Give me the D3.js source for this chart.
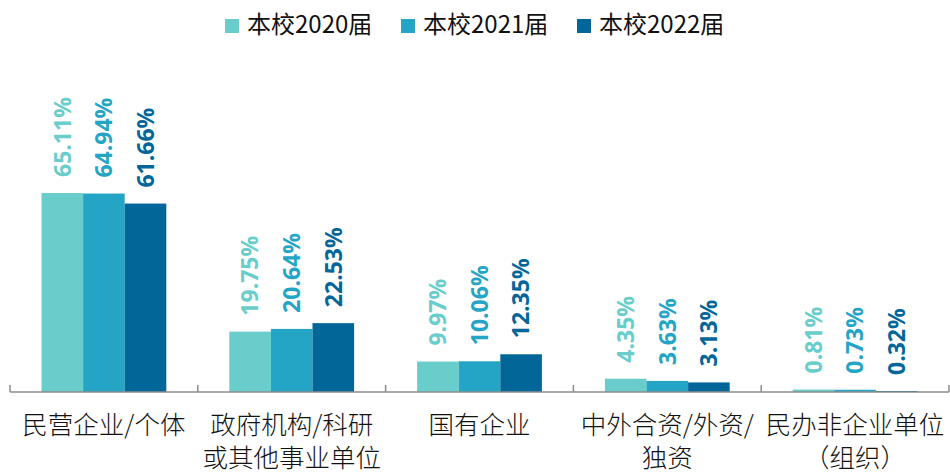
<!DOCTYPE html>
<html>
<head>
<meta charset="utf-8">
<script src="https://cdn.jsdelivr.net/npm/d3@7"></script>
<style>
  body { margin: 0; background: #fff; }
  svg { display: block; }
</style>
</head>
<body>
<script>
const categories = [
    ["民营企业/个体"],
    ["政府机构/科研", "或其他事业单位"],
    ["国有企业"],
    ["中外合资/外资/", "独资"],
    ["民办非企业单位", "（组织）"]
];
const seriesNames = ["本校2020届", "本校2021届", "本校2022届"];
const values2020 = [65.11, 19.75, 9.97, 4.35, 0.81];
const values2021 = [64.94, 20.64, 10.06, 3.63, 0.73];
const values2022 = [61.66, 22.53, 12.35, 3.13, 0.32];
const colors = ["#68cdcb", "#25a5c5", "#026699"];

const allValues = [values2020, values2021, values2022];
const catKeys = categories.map(c => c.join(""));

const width = 950, height = 474;

const svg = d3.select("body").append("svg")
    .attr("width", width)
    .attr("height", height);

// scales
const x0 = d3.scaleBand()
    .domain(catKeys)
    .range([10, 949]);

const x1 = d3.scaleBand()
    .domain(seriesNames)
    .range([31.5, x0.bandwidth() - 31.5]);

const y = d3.scaleLinear()
    .domain([0, 70])
    .range([392, 392 - 70 * 3.056]);

// bars
seriesNames.forEach((s, si) => {
    const g = svg.append("g");
    g.selectAll("rect")
        .data(allValues[si])
        .join("rect")
        .attr("x", (d, i) => x0(catKeys[i]) + x1(s))
        .attr("y", d => y(d))
        .attr("width", x1.bandwidth())
        .attr("height", d => y(0) - y(d))
        .attr("fill", colors[si]);

    // value labels, rotated
    g.selectAll("text")
        .data(allValues[si])
        .join("text")
        .attr("transform", (d, i) => {
            const cx = x0(catKeys[i]) + x1(s) + x1.bandwidth() / 2;
            return `translate(${cx},${y(d) - 16}) rotate(-90)`;
        })
        .attr("dy", "0.36em")
        .attr("text-anchor", "start")
        .style("font-family", "'Open Sans', sans-serif")
        .style("font-weight", "bold")
        .style("font-size", "23px")
        .style("fill", colors[si])
        .text(d => d.toFixed(2) + "%");
});

// axis line + ticks between categories
const axisColor = "#8c8c8c";
svg.append("line")
    .attr("x1", x0.range()[0]).attr("x2", x0.range()[1])
    .attr("y1", y(0)).attr("y2", y(0))
    .attr("stroke", axisColor)
    .attr("stroke-width", 1.5);

const tickXs = catKeys.map(k => x0(k)).concat([x0.range()[1]]);
svg.selectAll(".tick")
    .data(tickXs)
    .join("line")
    .attr("x1", d => d).attr("x2", d => d)
    .attr("y1", y(0)).attr("y2", y(0) - 7)
    .attr("stroke", axisColor)
    .attr("stroke-width", 1.5);

// category labels, one text per line
categories.forEach((lines, i) => {
    const cx = x0(catKeys[i]) + x0.bandwidth() / 2;
    lines.forEach((ln, li) => {
        svg.append("text")
            .attr("x", cx)
            .attr("y", 434 + li * 33)
            .attr("text-anchor", "middle")
            .style("font-family", "'Noto Sans CJK SC', sans-serif")
            .style("font-size", "25.5px")
            .style("font-weight", 300)
            .style("fill", "#111")
            .text(ln);
    });
});

// legend
const legendX = [225, 401, 577];
seriesNames.forEach((s, i) => {
    svg.append("rect")
        .attr("x", legendX[i])
        .attr("y", 19)
        .attr("width", 14)
        .attr("height", 14)
        .attr("fill", colors[i]);
    svg.append("text")
        .attr("x", legendX[i] + 22)
        .attr("y", 33)
        .style("font-family", "'Noto Sans CJK SC', sans-serif")
        .style("font-size", "24px")
        .style("fill", "#111")
        .text(s);
});
</script>
</body>
</html>
